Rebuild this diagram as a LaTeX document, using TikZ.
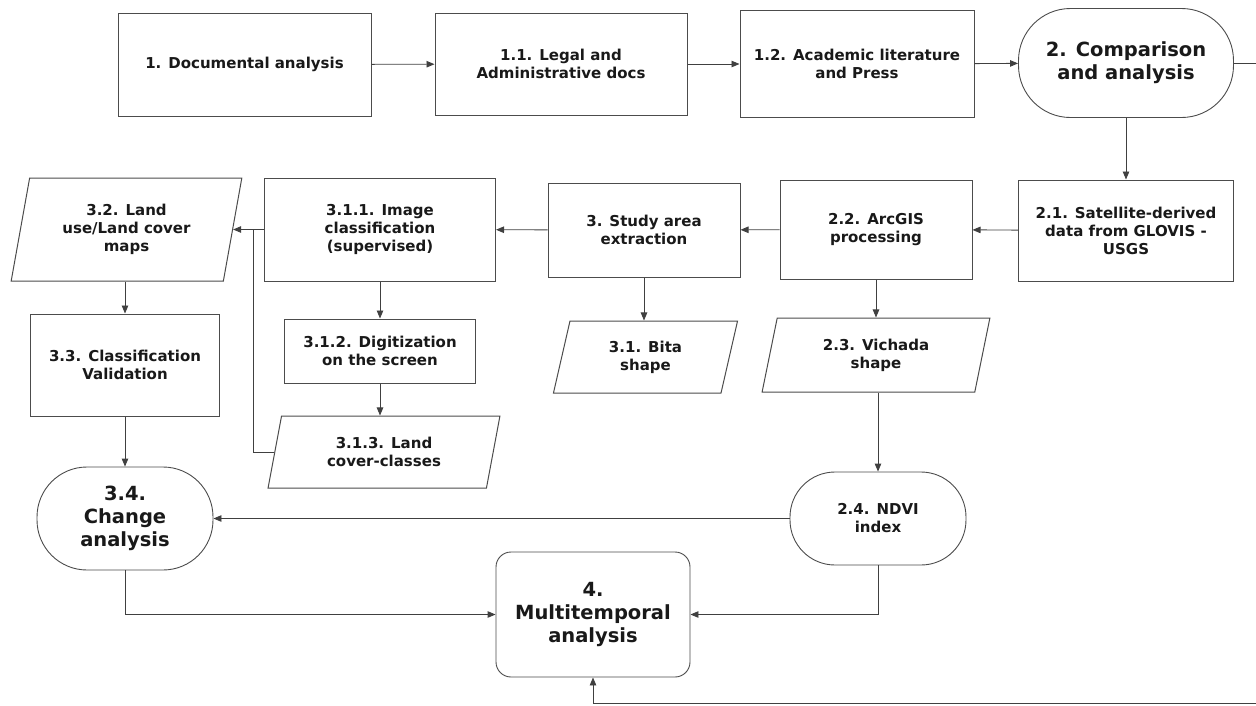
\documentclass[tikz,border=0pt]{standalone}
\usepackage{fontspec}
\setmainfont{DejaVu Sans}
\usepackage{tikz}
\usetikzlibrary{arrows.meta,positioning,shapes.geometric}

\begin{document}
\begin{tikzpicture}[x=1pt, y=-1pt,
  stepbox/.style={rectangle, draw=black!70, line width=1pt, fill=white, align=center, text=black!90,
    inner sep=2pt, font=\bfseries\fontsize{15}{18}\selectfont},
  datab/.style={stepbox, trapezium, trapezium left angle=77, trapezium right angle=103, trapezium stretches=true},
  term/.style={stepbox, line width=0.9pt, rounded corners=45pt},
  bigtxt/.style={font=\bfseries\fontsize{19.5}{23}\selectfont},
  lnk/.style={draw=black!75, line width=0.9pt},
  arr/.style={lnk, -{Triangle[length=8pt, width=6.5pt]}}]
  \useasboundingbox (0,0) rectangle (1256,705);
  % 1. documental analysis
  \node[stepbox, minimum width=253, minimum height=103] (n1) at (244.5,64.5) {1. Documental analysis};
  \node[stepbox, minimum width=252, minimum height=102] (n11) at (561,64) {1.1. Legal and\\Administrative docs};
  \node[stepbox, minimum width=234, minimum height=107] (n12) at (857,64) {1.2. Academic literature\\and Press};
  \node[term, bigtxt, rounded corners=52pt, minimum width=215, minimum height=109] (n2) at (1126,63) {2. Comparison\\and analysis};
  % 2. satellite data and processing
  \node[stepbox, minimum width=215, minimum height=101] (n21) at (1126,230.5) {2.1. Satellite-derived\\data from GLOVIS -\\USGS};
  \node[stepbox, minimum width=192, minimum height=99] (n22) at (876,229.5) {2.2. ArcGIS\\processing};
  \node[datab, minimum width=228, minimum height=74] (n23) at (876,355) {2.3. Vichada\\shape};
  \node[term, minimum width=176, minimum height=93] (n24) at (878,518.5) {2.4. NDVI\\index};
  % 3. study area and classification
  \node[stepbox, minimum width=192, minimum height=94] (n3) at (644,230) {3. Study area\\extraction};
  \node[datab, minimum width=185, minimum height=72] (n31) at (645.5,357) {3.1. Bita\\shape};
  \node[stepbox, minimum width=231, minimum height=103] (n311) at (380,229.5) {3.1.1. Image\\classification\\(supervised)};
  \node[stepbox, minimum width=191, minimum height=64] (n312) at (380,351) {3.1.2. Digitization\\on the screen};
  \node[datab, minimum width=232, minimum height=72] (n313) at (384,452) {3.1.3. Land\\cover-classes};
  \node[datab, minimum width=231, minimum height=103] (n32) at (126.5,229.5) {3.2. Land\\use/Land cover\\maps};
  \node[stepbox, minimum width=189, minimum height=102] (n33) at (125,365) {3.3. Classification\\Validation};
  \node[term, bigtxt, rounded corners=50pt, minimum width=176, minimum height=103] (n34) at (125,518.5) {3.4.\\Change\\analysis};
  % 4. multitemporal analysis
  \node[stepbox, bigtxt, line width=0.9pt, rounded corners=15pt, minimum width=194, minimum height=125] (n4) at (593,614.5) {4.\\Multitemporal\\analysis};
  \coordinate (jn) at (253,229.5);
  \coordinate (loop) at (1262,703);
  \draw[arr] (n1) -- (n11);
  \draw[arr] (n11) -- (n12);
  \draw[arr] (n12) -- (n2);
  \draw[arr] (n2) -- (n21);
  \draw[arr] (n21) -- (n22);
  \draw[arr] (n22) -- (n3);
  \draw[arr] (n3) -- (n311);
  \draw[arr] (n311.west) -- (n32.east);
  \draw[lnk] (n313.west) -| (jn);
  \draw[arr] (n3.south) -- (n3.south |- n31.north);
  \draw[arr] (n22.south) -- (n22.south |- n23.north);
  \draw[arr] (n24.north |- n23.south) -- (n24.north);
  \draw[arr] (n311) -- (n312);
  \draw[arr] (n312.south) -- (n312.south |- n313.north);
  \draw[arr] (n33.north |- n32.south) -- (n33.north);
  \draw[arr] (n33) -- (n34);
  \draw[arr] (n24) -- (n34);
  \draw[arr] (n24.south) |- (n4.east);
  \draw[arr] (n34.south) |- (n4.west);
  \draw[arr] (n2.east) -| (loop) -| (n4.south);
\end{tikzpicture}
\end{document}
